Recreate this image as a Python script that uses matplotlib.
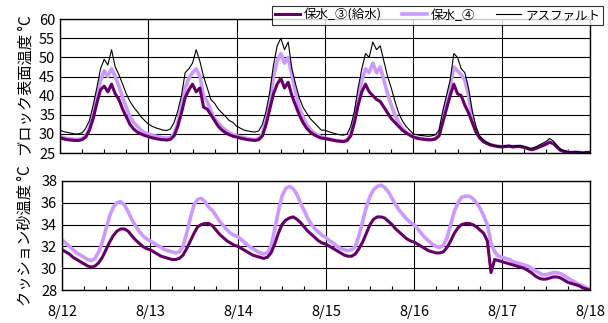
import numpy as np
import matplotlib.pyplot as plt
from matplotlib.lines import Line2D

plt.rcParams['font.family'] = ['Noto Sans CJK JP', 'DejaVu Sans']

# 1時間ごとの測定値 (8/12 0:00 ～ 8/18 0:00)
day_labels = ["8/12", "8/13", "8/14", "8/15", "8/16", "8/17", "8/18"]

# ブロック表面温度
surf_asphalt = [
    31.0, 30.6, 30.4, 30.2, 30.0, 30.0, 30.3, 31.5, 33.5, 37.5, 42.0, 47.0, 49.5, 48.0, 52.0, 47.5, 45.5, 43.0, 40.5, 38.5, 37.0, 35.8, 34.5, 33.5,
    32.6, 32.0, 31.6, 31.3, 31.0, 30.9, 31.3, 33.0, 36.0, 40.0, 46.0, 47.0, 48.5, 52.0, 49.0, 45.0, 42.0, 39.0, 38.0, 36.5, 35.5, 34.5, 33.5, 33.0,
    32.0, 31.5, 31.0, 30.8, 30.6, 30.5, 30.8, 32.5, 36.0, 41.0, 48.0, 53.0, 55.0, 52.0, 54.0, 47.0, 43.0, 39.5, 37.0, 35.5, 34.0, 33.0, 32.0, 31.0,
    31.0, 30.6, 30.3, 30.0, 29.8, 29.7, 30.0, 32.0, 36.0, 42.0, 47.0, 51.0, 50.0, 54.0, 52.0, 53.0, 49.0, 45.0, 42.0, 38.5, 35.5, 33.5, 32.0, 31.0,
    30.0, 29.8, 29.6, 29.5, 29.4, 29.5, 29.8, 31.0, 36.0, 40.0, 44.0, 51.0, 50.0, 47.0, 46.0, 42.0, 36.0, 32.0, 29.5, 28.5, 27.8, 27.3, 27.0, 26.8,
    26.8, 26.9, 27.0, 26.8, 26.9, 27.0, 26.7, 26.5, 26.2, 26.5, 27.0, 27.5, 28.0, 28.8, 28.2, 27.0, 26.0, 25.6, 25.4, 25.3, 25.4, 25.3, 25.2, 25.3,
    25.3]
surf_p4 = [
    29.3, 29.0, 28.8, 28.7, 28.6, 28.6, 28.8, 29.5, 31.5, 35.0, 39.5, 44.0, 46.5, 45.0, 47.0, 45.0, 42.5, 39.5, 37.0, 34.5, 33.0, 32.0, 31.0, 30.3,
    30.0, 29.7, 29.4, 29.2, 29.0, 28.9, 29.1, 30.0, 33.0, 37.0, 42.0, 44.5, 46.0, 47.0, 45.0, 40.0, 38.5, 36.0, 34.0, 32.8, 31.8, 31.0, 30.3, 29.8,
    29.5, 29.2, 29.0, 28.8, 28.6, 28.5, 28.8, 30.0, 33.5, 38.5, 45.0, 49.0, 51.0, 48.5, 50.0, 45.5, 41.0, 37.0, 34.5, 32.5, 31.2, 30.3, 29.7, 29.2,
    28.9, 28.7, 28.5, 28.3, 28.2, 28.1, 28.4, 30.0, 34.0, 39.5, 44.0, 47.0, 46.0, 48.5, 46.0, 47.5, 44.0, 40.5, 37.5, 35.0, 33.0, 31.5, 30.5, 29.8,
    29.2, 29.0, 28.8, 28.6, 28.5, 28.5, 28.8, 30.0, 34.5, 38.5, 42.5, 47.5, 46.5, 45.5, 44.0, 40.0, 34.5, 31.0, 29.0, 28.2, 27.6, 27.2, 27.0, 26.8,
    26.7, 26.8, 26.9, 26.7, 26.8, 26.8, 26.6, 26.3, 26.0, 26.2, 26.6, 27.0, 27.4, 28.0, 27.6, 26.7, 25.8, 25.5, 25.3, 25.2, 25.3, 25.2, 25.1, 25.2,
    25.2]
surf_p3 = [
    29.0, 28.7, 28.5, 28.4, 28.3, 28.3, 28.5, 29.2, 31.0, 34.0, 38.0, 41.5, 42.5, 41.0, 43.0, 40.5, 39.0, 36.5, 34.5, 32.5, 31.3, 30.5, 30.0, 29.6,
    29.3, 29.0, 28.8, 28.6, 28.5, 28.4, 28.6, 29.5, 32.0, 35.5, 39.5, 41.5, 43.0, 41.0, 42.0, 37.0, 36.5, 35.0, 33.5, 32.0, 31.0, 30.3, 29.8, 29.4,
    29.2, 28.9, 28.7, 28.5, 28.4, 28.3, 28.5, 29.5, 32.5, 36.5, 40.5, 43.0, 44.5, 42.0, 43.5, 40.0, 37.5, 35.0, 33.0, 31.5, 30.5, 29.8, 29.3, 28.9,
    28.8, 28.6, 28.4, 28.2, 28.1, 28.0, 28.3, 29.5, 33.0, 37.5, 41.0, 43.0, 41.0, 40.0, 39.0, 38.5, 37.0, 35.5, 34.0, 33.0, 32.0, 31.0, 30.3, 29.7,
    29.2, 28.9, 28.7, 28.6, 28.5, 28.5, 28.7, 29.5, 33.0, 36.5, 40.0, 43.0, 40.5, 40.0, 37.5, 35.5, 33.0, 30.5, 29.0, 28.0, 27.5, 27.1, 26.9, 26.7,
    26.6, 26.7, 26.8, 26.6, 26.7, 26.7, 26.5, 26.2, 25.9, 26.1, 26.5, 26.9, 27.3, 27.8, 27.5, 26.6, 25.7, 25.4, 25.2, 25.1, 25.2, 25.1, 25.0, 25.1,
    25.1]

# クッション砂温度
sand_p4 = [
    32.6, 32.3, 32.0, 31.7, 31.4, 31.2, 31.0, 30.8, 30.7, 30.9, 31.5, 32.4, 33.6, 34.8, 35.6, 36.0, 36.1, 35.8, 35.2, 34.5, 33.9, 33.4, 33.0, 32.7,
    32.5, 32.3, 32.1, 31.9, 31.7, 31.6, 31.5, 31.4, 31.5, 32.0, 33.2, 34.6, 35.8, 36.3, 36.4, 36.1, 35.6, 35.3, 34.8, 34.3, 33.9, 33.5, 33.2, 33.0,
    32.9, 32.6, 32.3, 32.0, 31.8, 31.6, 31.4, 31.3, 31.4, 32.0, 33.5, 35.2, 36.6, 37.3, 37.5, 37.3, 36.8, 36.0, 35.3, 34.6, 34.0, 33.6, 33.3, 33.0,
    32.8, 32.5, 32.3, 32.0, 31.8, 31.7, 31.6, 31.7, 32.0, 33.0, 34.3, 35.6, 36.6, 37.2, 37.5, 37.6, 37.4, 37.0, 36.4, 35.8, 35.3, 34.9, 34.5, 34.2,
    34.0, 33.6, 33.2, 32.8, 32.5, 32.2, 32.0, 31.9, 32.1, 32.8, 34.0, 35.2, 36.0, 36.5, 36.6, 36.6, 36.4, 36.0, 35.5, 34.8, 34.0, 32.3, 31.5, 31.1,
    31.0, 30.9, 30.8, 30.6, 30.5, 30.4, 30.3, 30.2, 30.0, 29.8, 29.6, 29.4, 29.4, 29.5, 29.6, 29.6, 29.5, 29.3, 29.1, 28.9, 28.7, 28.5, 28.4, 28.2,
    28.1]
sand_p3 = [
    31.7, 31.5, 31.3, 31.0, 30.8, 30.6, 30.4, 30.2, 30.1, 30.2, 30.5, 31.0, 31.7, 32.4, 33.0, 33.4, 33.6, 33.6, 33.4, 33.0, 32.6, 32.3, 32.0, 31.8,
    31.7, 31.5, 31.3, 31.1, 31.0, 30.9, 30.8, 30.8, 30.9, 31.2, 31.8, 32.5, 33.2, 33.8, 34.0, 34.1, 34.1, 33.9, 33.5, 33.1, 32.8, 32.5, 32.3, 32.1,
    32.0, 31.8, 31.6, 31.4, 31.2, 31.1, 31.0, 30.9, 31.0, 31.4, 32.2, 33.2, 34.0, 34.4, 34.6, 34.7, 34.5, 34.2, 33.8, 33.4, 33.1, 32.8, 32.5, 32.3,
    32.2, 32.0, 31.8, 31.6, 31.4, 31.2, 31.1, 31.1, 31.3, 31.8, 32.4, 33.2, 34.0, 34.5, 34.7, 34.7, 34.6, 34.3, 34.0, 33.6, 33.3, 33.0, 32.7, 32.5,
    32.4, 32.2, 32.0, 31.8, 31.6, 31.5, 31.4, 31.4, 31.5, 31.9, 32.5, 33.2, 33.7, 34.0, 34.1, 34.1, 34.0, 33.8, 33.5, 33.2, 32.5, 29.6, 30.8, 30.7,
    30.6, 30.5, 30.4, 30.3, 30.2, 30.1, 30.0, 29.8, 29.6, 29.3, 29.1, 29.0, 29.0, 29.1, 29.2, 29.2, 29.1, 28.9, 28.7, 28.6, 28.5, 28.4, 28.2, 28.1,
    28.0]

t = np.arange(len(surf_asphalt)) / 24.0

c3 = '#660066'
c4 = '#cc99ff'

fig = plt.figure(figsize=(6.08, 3.23), dpi=100)
ax1 = fig.add_axes([0.0987, 0.526, 0.8717, 0.415])
ax2 = fig.add_axes([0.102, 0.102, 0.8684, 0.338])

ax1.plot(t, surf_p4, color=c4, lw=2.6)
ax1.plot(t, surf_p3, color=c3, lw=2.2)
ax1.plot(t, surf_asphalt, color='black', lw=0.8)

ax2.plot(t, sand_p4, color=c4, lw=2.6)
ax2.plot(t, sand_p3, color=c3, lw=2.2)

for ax in (ax1, ax2):
    ax.set_xlim(0, 6)
    ax.set_xticks(np.arange(7))
    ax.set_xticks(np.arange(0, 6, 0.25), minor=True)
    ax.grid(True, which='major', color='black', lw=0.8)
    ax.tick_params(which='major', length=0, labelsize=10.5)
    ax.tick_params(which='minor', direction='in', length=3, width=0.8, left=False)
    for s in ax.spines.values():
        s.set_linewidth(1.0)

ax1.set_ylim(25, 60)
ax1.set_yticks(np.arange(25, 61, 5))
ax1.set_xticklabels([])
ax1.set_ylabel('ブロック表面温度 °C', fontsize=11, labelpad=3)

ax2.set_ylim(28, 38)
ax2.set_yticks(np.arange(28, 39, 2))
ax2.set_xticklabels(day_labels)
ax2.tick_params(axis='x', which='major', pad=11)
ax2.set_ylabel('クッション砂温度 °C', fontsize=11, labelpad=5)

handles = [Line2D([], [], color=c3, lw=2.2),
           Line2D([], [], color=c4, lw=2.6),
           Line2D([], [], color='black', lw=0.8)]
names = ['保水_③(給水)', '保水_④', 'アスファルト']
leg = fig.legend(handles, names, loc='lower left', ncol=3, mode='expand',
                 bbox_to_anchor=(0.447, 0.923, 0.545, 0.059),
                 fontsize=9, frameon=True, fancybox=False, borderpad=0.25,
                 handlelength=2.0, handletextpad=0.3, borderaxespad=0)
leg.get_frame().set_edgecolor('black')
leg.get_frame().set_linewidth(0.8)

fig.savefig('out.png', dpi=100)
